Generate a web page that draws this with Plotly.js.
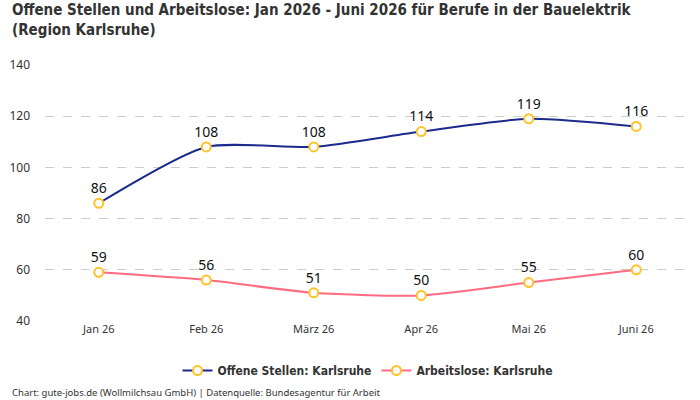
<!DOCTYPE html>
<html><head><meta charset="utf-8">
<script src="https://cdn.plot.ly/plotly-3.0.1.min.js"></script>
<style>body{margin:0;padding:0;}#c{width:700px;height:400px;}</style>
</head><body><div id="c"></div>
<script>
const months = ["Jan 26","Feb 26","März 26","Apr 26","Mai 26","Juni 26"];
const offeneStellen = [86,108,108,114,119,116];
const arbeitslose = [59,56,51,50,55,60];
const seriesNames = ["Offene Stellen: Karlsruhe","Arbeitslose: Karlsruhe"];
const yTicks = [40,60,80,100,120,140];

const marker = {symbol:"circle", size:9, color:"#ffffff", line:{color:"#FFC328", width:2}};
function tr(y, name, col){
  return {x:months, y:y, name:name, type:"scatter", mode:"lines+markers+text",
    line:{color:col, width:2, shape:"spline", smoothing:0.65},
    marker:marker, text:y.map(String), textposition:"top center",
    textfont:{family:"Noto Sans, sans-serif", size:14, color:"#111"}, cliponaxis:false};
}
const data = [tr(offeneStellen, seriesNames[0], "#1B2A8C"), tr(arbeitslose, seriesNames[1], "#FF6B81")];
const layout = {
  width:700, height:400, paper_bgcolor:"#fff", plot_bgcolor:"#fff",
  margin:{l:45, r:10, t:65, b:79, autoexpand:false},
  xaxis:{type:"category", range:[-0.5,5.5], showgrid:false, zeroline:false, showline:false, ticks:"",
    tickfont:{family:"Noto Sans, sans-serif", size:11, color:"#333"}},
  yaxis:{range:[40,140], tickvals:yTicks, showgrid:true, gridcolor:"#cccccc", griddash:"dash", zeroline:false,
    showline:false, ticks:"", ticklabelstandoff:14,
    tickfont:{family:"Noto Sans, sans-serif", size:12, color:"#333"}},
  legend:{orientation:"h", x:0.5, xanchor:"center", yref:"container", y:0.11, yanchor:"top",
    itemwidth:30, tracegroupgap:0,
    font:{family:"DejaVu Sans Condensed, sans-serif", size:12, color:"#333", weight:"bold"}},
  showlegend:true,
  annotations:[
   {text:"Offene Stellen und Arbeitslose: Jan 2026 - Juni 2026 für Berufe in der Bauelektrik<br>(Region Karlsruhe)",
    xref:"paper", yref:"paper", x:-0.054, xanchor:"left", y:1.258, yanchor:"top", align:"left", showarrow:false,
    font:{family:"DejaVu Sans Condensed, Liberation Sans Narrow, Roboto, sans-serif", size:15, color:"#333", weight:"bold"}},
   {text:"Chart: gute-jobs.de (Wollmilchsau GmbH) | Datenquelle: Bundesagentur für Arbeit",
    xref:"paper", yref:"paper", x:-0.054, xanchor:"left", y:-0.281, yanchor:"middle", showarrow:false,
    font:{family:"Noto Sans, sans-serif", size:9.5, color:"#333"}}]
};
Plotly.newPlot("c", data, layout, {displayModeBar:false});
</script></body></html>
